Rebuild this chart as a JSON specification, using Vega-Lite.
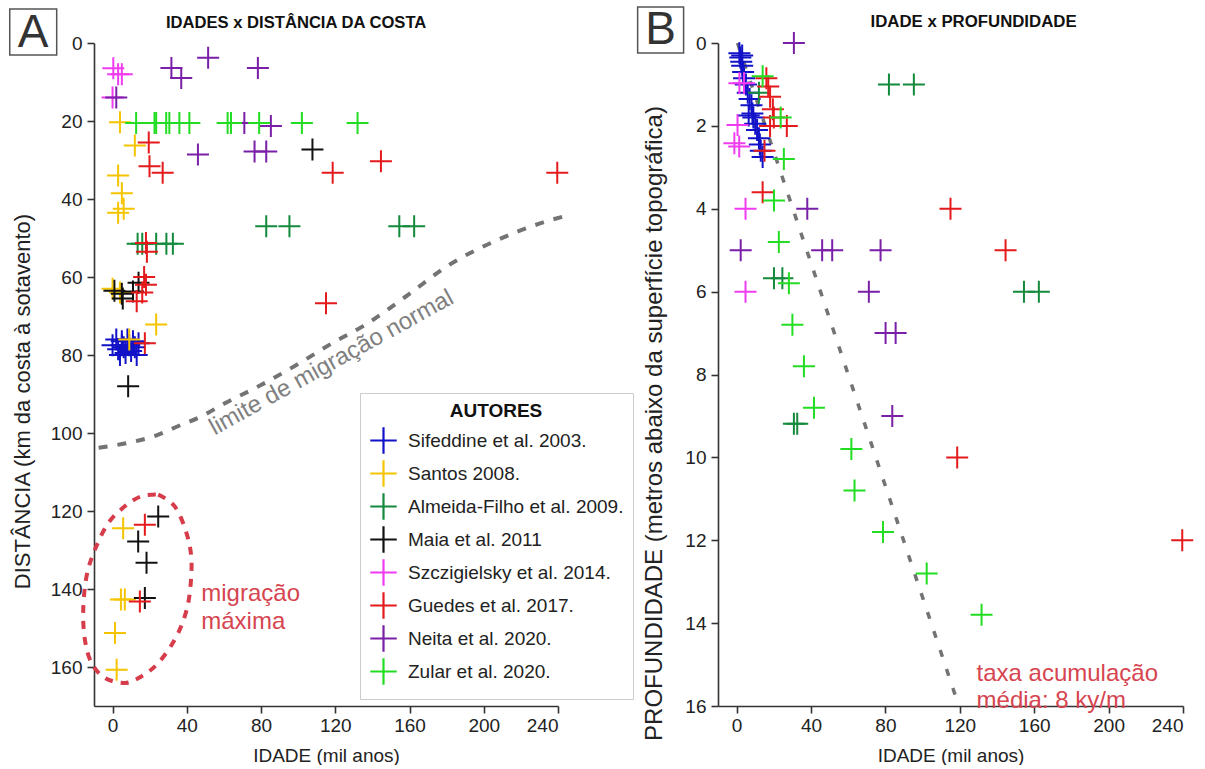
{
  "$schema": "https://vega.github.io/schema/vega-lite/v6.json",
  "background": "white",
  "padding": {"left": 8, "top": 6, "right": 0, "bottom": 0},
  "autosize": {"type": "pad"},
  "bounds": "flush",
  "spacing": 160,
  "config": {
    "font": "Liberation Sans",
    "view": {"stroke": null},
    "axis": {
      "grid": false,
      "domainColor": "#333333",
      "domainWidth": 1.6,
      "tickColor": "#333333",
      "tickWidth": 1.6,
      "tickSize": 7,
      "labelFontSize": 19,
      "labelColor": "#222222",
      "labelFont": "Liberation Sans",
      "titleFont": "Liberation Sans",
      "titleFontSize": 20,
      "titleFontWeight": "normal",
      "titleColor": "#222222"
    }
  },
  "datasets": {
    "a": [
      {"autor": "Sifeddine et al. 2003.", "idade": 0, "dist": 77.5},
      {"autor": "Sifeddine et al. 2003.", "idade": 2, "dist": 76},
      {"autor": "Sifeddine et al. 2003.", "idade": 3, "dist": 78.5},
      {"autor": "Sifeddine et al. 2003.", "idade": 4, "dist": 80},
      {"autor": "Sifeddine et al. 2003.", "idade": 5, "dist": 76.5},
      {"autor": "Sifeddine et al. 2003.", "idade": 6, "dist": 78},
      {"autor": "Sifeddine et al. 2003.", "idade": 7, "dist": 79.5},
      {"autor": "Sifeddine et al. 2003.", "idade": 8, "dist": 76},
      {"autor": "Sifeddine et al. 2003.", "idade": 9, "dist": 77.5},
      {"autor": "Sifeddine et al. 2003.", "idade": 10, "dist": 79},
      {"autor": "Sifeddine et al. 2003.", "idade": 11, "dist": 76.5},
      {"autor": "Sifeddine et al. 2003.", "idade": 12, "dist": 78},
      {"autor": "Sifeddine et al. 2003.", "idade": 13, "dist": 80},
      {"autor": "Sifeddine et al. 2003.", "idade": 14, "dist": 77},
      {"autor": "Sifeddine et al. 2003.", "idade": 5, "dist": 77.5},
      {"autor": "Santos 2008.", "idade": 4, "dist": 20.3},
      {"autor": "Santos 2008.", "idade": 12, "dist": 26.3},
      {"autor": "Santos 2008.", "idade": 3, "dist": 34},
      {"autor": "Santos 2008.", "idade": 5, "dist": 38.5},
      {"autor": "Santos 2008.", "idade": 6, "dist": 42.5},
      {"autor": "Santos 2008.", "idade": 3, "dist": 43.5},
      {"autor": "Santos 2008.", "idade": 0, "dist": 63},
      {"autor": "Santos 2008.", "idade": 4, "dist": 64},
      {"autor": "Santos 2008.", "idade": 23.5, "dist": 72.2},
      {"autor": "Santos 2008.", "idade": 9, "dist": 76},
      {"autor": "Santos 2008.", "idade": 5.7, "dist": 124.4},
      {"autor": "Santos 2008.", "idade": 6.6, "dist": 142.7},
      {"autor": "Santos 2008.", "idade": 4.5, "dist": 142.7},
      {"autor": "Santos 2008.", "idade": 1.3, "dist": 151.3},
      {"autor": "Santos 2008.", "idade": 2.2, "dist": 160.7},
      {"autor": "Almeida-Filho et al. 2009.", "idade": 82.8, "dist": 47},
      {"autor": "Almeida-Filho et al. 2009.", "idade": 95.3, "dist": 47},
      {"autor": "Almeida-Filho et al. 2009.", "idade": 154.5, "dist": 47},
      {"autor": "Almeida-Filho et al. 2009.", "idade": 162.5, "dist": 47},
      {"autor": "Almeida-Filho et al. 2009.", "idade": 13.5, "dist": 51.5},
      {"autor": "Almeida-Filho et al. 2009.", "idade": 16, "dist": 51.5},
      {"autor": "Almeida-Filho et al. 2009.", "idade": 23.5, "dist": 51.5},
      {"autor": "Almeida-Filho et al. 2009.", "idade": 29, "dist": 51.5},
      {"autor": "Almeida-Filho et al. 2009.", "idade": 32.5, "dist": 51.5},
      {"autor": "Maia et al. 2011", "idade": 107.7, "dist": 27.3},
      {"autor": "Maia et al. 2011", "idade": 1, "dist": 63.5},
      {"autor": "Maia et al. 2011", "idade": 5, "dist": 64.3},
      {"autor": "Maia et al. 2011", "idade": 5.5, "dist": 65.5},
      {"autor": "Maia et al. 2011", "idade": 11, "dist": 63.7},
      {"autor": "Maia et al. 2011", "idade": 14, "dist": 61.5},
      {"autor": "Maia et al. 2011", "idade": 8.4, "dist": 88},
      {"autor": "Maia et al. 2011", "idade": 24.6, "dist": 121.4},
      {"autor": "Maia et al. 2011", "idade": 13.8, "dist": 127.8},
      {"autor": "Maia et al. 2011", "idade": 18.3, "dist": 133.3},
      {"autor": "Maia et al. 2011", "idade": 17.4, "dist": 142.3},
      {"autor": "Szczigielsky et al. 2014.", "idade": 0.4, "dist": 6.5},
      {"autor": "Szczigielsky et al. 2014.", "idade": 3, "dist": 8},
      {"autor": "Szczigielsky et al. 2014.", "idade": 5, "dist": 8},
      {"autor": "Szczigielsky et al. 2014.", "idade": 0, "dist": 14},
      {"autor": "Guedes et al. 2017.", "idade": 19.5, "dist": 25.5},
      {"autor": "Guedes et al. 2017.", "idade": 19.9, "dist": 31.6},
      {"autor": "Guedes et al. 2017.", "idade": 27, "dist": 33.3},
      {"autor": "Guedes et al. 2017.", "idade": 118.6, "dist": 33.3},
      {"autor": "Guedes et al. 2017.", "idade": 144.6, "dist": 30.3},
      {"autor": "Guedes et al. 2017.", "idade": 239.6, "dist": 33.3},
      {"autor": "Guedes et al. 2017.", "idade": 18, "dist": 51.3},
      {"autor": "Guedes et al. 2017.", "idade": 18.5, "dist": 53.5},
      {"autor": "Guedes et al. 2017.", "idade": 17, "dist": 60},
      {"autor": "Guedes et al. 2017.", "idade": 18, "dist": 62},
      {"autor": "Guedes et al. 2017.", "idade": 16, "dist": 64},
      {"autor": "Guedes et al. 2017.", "idade": 13, "dist": 66.2},
      {"autor": "Guedes et al. 2017.", "idade": 115, "dist": 66.7},
      {"autor": "Guedes et al. 2017.", "idade": 17.4, "dist": 77},
      {"autor": "Guedes et al. 2017.", "idade": 17.4, "dist": 123.5},
      {"autor": "Guedes et al. 2017.", "idade": 14.7, "dist": 143.2},
      {"autor": "Neita et al. 2020.", "idade": 2, "dist": 14},
      {"autor": "Neita et al. 2020.", "idade": 31.7, "dist": 6.4},
      {"autor": "Neita et al. 2020.", "idade": 37, "dist": 9},
      {"autor": "Neita et al. 2020.", "idade": 51.5, "dist": 3.8},
      {"autor": "Neita et al. 2020.", "idade": 78.3, "dist": 6.4},
      {"autor": "Neita et al. 2020.", "idade": 71, "dist": 20.5},
      {"autor": "Neita et al. 2020.", "idade": 85.3, "dist": 21.3},
      {"autor": "Neita et al. 2020.", "idade": 46, "dist": 28.6},
      {"autor": "Neita et al. 2020.", "idade": 76.5, "dist": 27.8},
      {"autor": "Neita et al. 2020.", "idade": 82.8, "dist": 27.8},
      {"autor": "Zular et al. 2020.", "idade": 12.7, "dist": 20.5},
      {"autor": "Zular et al. 2020.", "idade": 22.6, "dist": 20.5},
      {"autor": "Zular et al. 2020.", "idade": 23.5, "dist": 20.5},
      {"autor": "Zular et al. 2020.", "idade": 28.9, "dist": 20.5},
      {"autor": "Zular et al. 2020.", "idade": 30.6, "dist": 20.5},
      {"autor": "Zular et al. 2020.", "idade": 36, "dist": 20.5},
      {"autor": "Zular et al. 2020.", "idade": 41.4, "dist": 20.5},
      {"autor": "Zular et al. 2020.", "idade": 62, "dist": 20.5},
      {"autor": "Zular et al. 2020.", "idade": 63.8, "dist": 20.5},
      {"autor": "Zular et al. 2020.", "idade": 79, "dist": 20.5},
      {"autor": "Zular et al. 2020.", "idade": 102, "dist": 20.5},
      {"autor": "Zular et al. 2020.", "idade": 132, "dist": 20.5}
    ],
    "b": [
      {"autor": "Sifeddine et al. 2003.", "idade": 1.5, "prof": 0.25},
      {"autor": "Sifeddine et al. 2003.", "idade": 2, "prof": 0.35},
      {"autor": "Sifeddine et al. 2003.", "idade": 2.5, "prof": 0.45},
      {"autor": "Sifeddine et al. 2003.", "idade": 3, "prof": 0.55},
      {"autor": "Sifeddine et al. 2003.", "idade": 3.5, "prof": 0.7},
      {"autor": "Sifeddine et al. 2003.", "idade": 4, "prof": 0.85},
      {"autor": "Sifeddine et al. 2003.", "idade": 5, "prof": 1.0},
      {"autor": "Sifeddine et al. 2003.", "idade": 6, "prof": 1.2},
      {"autor": "Sifeddine et al. 2003.", "idade": 7, "prof": 1.35},
      {"autor": "Sifeddine et al. 2003.", "idade": 8, "prof": 1.5},
      {"autor": "Sifeddine et al. 2003.", "idade": 8.5, "prof": 1.7},
      {"autor": "Sifeddine et al. 2003.", "idade": 9, "prof": 1.8},
      {"autor": "Sifeddine et al. 2003.", "idade": 10, "prof": 1.95},
      {"autor": "Sifeddine et al. 2003.", "idade": 11, "prof": 2.1},
      {"autor": "Sifeddine et al. 2003.", "idade": 12, "prof": 2.3},
      {"autor": "Sifeddine et al. 2003.", "idade": 12.5, "prof": 2.45},
      {"autor": "Sifeddine et al. 2003.", "idade": 13, "prof": 2.6},
      {"autor": "Sifeddine et al. 2003.", "idade": 14, "prof": 2.75},
      {"autor": "Sifeddine et al. 2003.", "idade": 6.5, "prof": 1.75},
      {"autor": "Sifeddine et al. 2003.", "idade": 3, "prof": 0.3},
      {"autor": "Almeida-Filho et al. 2009.", "idade": 12, "prof": 1.2},
      {"autor": "Almeida-Filho et al. 2009.", "idade": 81.9, "prof": 1.0},
      {"autor": "Almeida-Filho et al. 2009.", "idade": 95.3, "prof": 1.0},
      {"autor": "Almeida-Filho et al. 2009.", "idade": 20.1, "prof": 5.68},
      {"autor": "Almeida-Filho et al. 2009.", "idade": 24.6, "prof": 5.68},
      {"autor": "Almeida-Filho et al. 2009.", "idade": 154.5, "prof": 6.0},
      {"autor": "Almeida-Filho et al. 2009.", "idade": 162.5, "prof": 6.0},
      {"autor": "Almeida-Filho et al. 2009.", "idade": 30.8, "prof": 9.19},
      {"autor": "Almeida-Filho et al. 2009.", "idade": 32.6, "prof": 9.19},
      {"autor": "Szczigielsky et al. 2014.", "idade": 4, "prof": 0.97},
      {"autor": "Szczigielsky et al. 2014.", "idade": 1.5, "prof": 0.97},
      {"autor": "Szczigielsky et al. 2014.", "idade": 0.5, "prof": 1.98},
      {"autor": "Szczigielsky et al. 2014.", "idade": -1.2, "prof": 2.42},
      {"autor": "Szczigielsky et al. 2014.", "idade": 1.4, "prof": 2.5},
      {"autor": "Szczigielsky et al. 2014.", "idade": 4.8, "prof": 4.0},
      {"autor": "Szczigielsky et al. 2014.", "idade": 4.8, "prof": 6.0},
      {"autor": "Guedes et al. 2017.", "idade": 16, "prof": 0.85},
      {"autor": "Guedes et al. 2017.", "idade": 17, "prof": 1.05},
      {"autor": "Guedes et al. 2017.", "idade": 18, "prof": 1.3},
      {"autor": "Guedes et al. 2017.", "idade": 19.5, "prof": 1.6},
      {"autor": "Guedes et al. 2017.", "idade": 20, "prof": 1.8},
      {"autor": "Guedes et al. 2017.", "idade": 18, "prof": 2.0},
      {"autor": "Guedes et al. 2017.", "idade": 27, "prof": 2.0},
      {"autor": "Guedes et al. 2017.", "idade": 15, "prof": 2.6},
      {"autor": "Guedes et al. 2017.", "idade": 14, "prof": 3.6},
      {"autor": "Guedes et al. 2017.", "idade": 115, "prof": 4.0},
      {"autor": "Guedes et al. 2017.", "idade": 144.6, "prof": 5.0},
      {"autor": "Guedes et al. 2017.", "idade": 118.6, "prof": 10.0},
      {"autor": "Guedes et al. 2017.", "idade": 239.6, "prof": 12.0},
      {"autor": "Neita et al. 2020.", "idade": 30.8, "prof": 0},
      {"autor": "Neita et al. 2020.", "idade": 2.2, "prof": 5},
      {"autor": "Neita et al. 2020.", "idade": 38, "prof": 4},
      {"autor": "Neita et al. 2020.", "idade": 46, "prof": 5},
      {"autor": "Neita et al. 2020.", "idade": 51.4, "prof": 5},
      {"autor": "Neita et al. 2020.", "idade": 77.4, "prof": 5},
      {"autor": "Neita et al. 2020.", "idade": 71.1, "prof": 6},
      {"autor": "Neita et al. 2020.", "idade": 80.1, "prof": 7},
      {"autor": "Neita et al. 2020.", "idade": 85.5, "prof": 7},
      {"autor": "Neita et al. 2020.", "idade": 83.7, "prof": 9},
      {"autor": "Zular et al. 2020.", "idade": 14, "prof": 0.8},
      {"autor": "Zular et al. 2020.", "idade": 23.7, "prof": 1.8},
      {"autor": "Zular et al. 2020.", "idade": 25.4, "prof": 2.8},
      {"autor": "Zular et al. 2020.", "idade": 20.1, "prof": 3.8},
      {"autor": "Zular et al. 2020.", "idade": 22.7, "prof": 4.8},
      {"autor": "Zular et al. 2020.", "idade": 28.1, "prof": 5.8},
      {"autor": "Zular et al. 2020.", "idade": 30, "prof": 6.8},
      {"autor": "Zular et al. 2020.", "idade": 36.2, "prof": 7.8},
      {"autor": "Zular et al. 2020.", "idade": 41.6, "prof": 8.8},
      {"autor": "Zular et al. 2020.", "idade": 61.7, "prof": 9.8},
      {"autor": "Zular et al. 2020.", "idade": 63.4, "prof": 10.8},
      {"autor": "Zular et al. 2020.", "idade": 78.7, "prof": 11.8},
      {"autor": "Zular et al. 2020.", "idade": 102.2, "prof": 12.8},
      {"autor": "Zular et al. 2020.", "idade": 131.7, "prof": 13.8}
    ],
    "curve": [
      {"idade": -7.5, "dist": 103.8},
      {"idade": 7.5, "dist": 102.6},
      {"idade": 22.6, "dist": 100.8},
      {"idade": 35.5, "dist": 98.2},
      {"idade": 48, "dist": 95.7},
      {"idade": 60, "dist": 92.5},
      {"idade": 80, "dist": 87.7},
      {"idade": 100, "dist": 82.3},
      {"idade": 120, "dist": 76.5},
      {"idade": 135, "dist": 72.6},
      {"idade": 158, "dist": 65},
      {"idade": 181, "dist": 57},
      {"idade": 206, "dist": 50.8},
      {"idade": 232, "dist": 46},
      {"idade": 247, "dist": 44}
    ],
    "ellipse": [
      {"i": 0, "idade": 24.6, "dist": 115.8},
      {"i": 1, "idade": 33.5, "dist": 118.8},
      {"i": 2, "idade": 39.8, "dist": 125.6},
      {"i": 3, "idade": 42.5, "dist": 132.5},
      {"i": 4, "idade": 41.6, "dist": 141.0},
      {"i": 5, "idade": 38.9, "dist": 147.0},
      {"i": 6, "idade": 33.5, "dist": 153.0},
      {"i": 7, "idade": 24.6, "dist": 159.0},
      {"i": 8, "idade": 15.6, "dist": 162.4},
      {"i": 9, "idade": 6.6, "dist": 164.1},
      {"i": 10, "idade": -4.1, "dist": 162.8},
      {"i": 11, "idade": -11.3, "dist": 159.0},
      {"i": 12, "idade": -14.9, "dist": 153.0},
      {"i": 13, "idade": -15.8, "dist": 145.3},
      {"i": 14, "idade": -14.0, "dist": 136.7},
      {"i": 15, "idade": -9.5, "dist": 129.9},
      {"i": 16, "idade": -2.3, "dist": 123.1},
      {"i": 17, "idade": 6.6, "dist": 118.8},
      {"i": 18, "idade": 15.6, "dist": 116.2},
      {"i": 19, "idade": 24.6, "dist": 115.8}
    ],
    "rate": [
      {"idade": 0.5, "prof": 0},
      {"idade": 118, "prof": 15.8}
    ]
  },
  "hconcat": [
    {
      "width": 464,
      "height": 663,
      "layer": [
        {
          "data": {"name": "a"},
          "mark": {"type": "point", "shape": "M-1,0H1M0,-1V1", "filled": false, "strokeWidth": 2, "size": 484, "opacity": 1},
          "encoding": {
            "x": {"field": "idade", "type": "quantitative", "scale": {"domain": [-10, 240], "nice": false, "zero": false}, "axis": {"values": [0, 40, 80, 120, 160, 200, 240], "title": "IDADE (mil anos)", "titleFontSize": 19, "labelPadding": 3, "titlePadding": 11}},
            "y": {"field": "dist", "type": "quantitative", "scale": {"domain": [0, 170], "nice": false, "zero": false, "reverse": true}, "axis": {"values": [0, 20, 40, 60, 80, 100, 120, 140, 160], "title": "DISTÂNCIA (km da costa à sotavento)", "titleFontSize": 22, "labelPadding": 5, "titlePadding": 16, "titleY": 358}},
            "color": {
              "field": "autor", "type": "nominal",
              "scale": {"domain": ["Sifeddine et al. 2003.", "Santos 2008.", "Almeida-Filho et al. 2009.", "Maia et al. 2011", "Szczigielsky et al. 2014.", "Guedes et al. 2017.", "Neita et al. 2020.", "Zular et al. 2020."], "range": ["#1212c8", "#f5c400", "#138a3c", "#111111", "#f03cf0", "#e41a1c", "#7a1fa8", "#22dd22"]},
              "legend": {"orient": "none", "legendX": 266, "legendY": 350, "title": "AUTORES", "titleFontSize": 19, "titleFontWeight": "bold", "titleColor": "#111111", "titleAnchor": "middle", "titlePadding": 5, "labelFontSize": 19, "labelColor": "#222222", "labelLimit": 400, "symbolType": "M-1,0H1M0,-1V1", "symbolSize": 700, "symbolStrokeWidth": 2.2, "fillColor": "white", "strokeColor": "#cccccc", "padding": 9, "rowPadding": -18, "labelOffset": 10}
            }
          }
        },
        {
          "data": {"name": "curve"},
          "mark": {"type": "line", "color": "#737373", "strokeWidth": 4, "strokeDash": [9, 10], "interpolate": "monotone", "clip": false},
          "encoding": {
            "x": {"field": "idade", "type": "quantitative"},
            "y": {"field": "dist", "type": "quantitative"}
          }
        },
        {
          "data": {"name": "ellipse"},
          "mark": {"type": "line", "color": "#d63c4a", "strokeWidth": 4, "strokeDash": [8, 8], "interpolate": "cardinal", "clip": false},
          "encoding": {
            "x": {"field": "idade", "type": "quantitative"},
            "y": {"field": "dist", "type": "quantitative"},
            "order": {"field": "i", "type": "quantitative"}
          }
        },
        {
          "data": {"values": [{"t": "limite de migração normal"}]},
          "mark": {"type": "text", "fontSize": 24, "color": "#7f7f7f", "angle": -29, "align": "center", "baseline": "middle"},
          "encoding": {
            "x": {"datum": 118, "type": "quantitative"},
            "y": {"datum": 82, "type": "quantitative"},
            "text": {"field": "t"}
          }
        },
        {
          "data": {"values": [{"t": ["migração", "máxima"]}]},
          "mark": {"type": "text", "fontSize": 24, "color": "#d64550", "align": "left", "baseline": "middle", "lineHeight": 28},
          "encoding": {
            "x": {"datum": 47.8, "type": "quantitative"},
            "y": {"datum": 141.3, "type": "quantitative"},
            "text": {"field": "t"}
          }
        },
        {
          "data": {"values": [{"t": "IDADES x DISTÂNCIA DA COSTA"}]},
          "mark": {"type": "text", "fontSize": 16.6, "fontWeight": "bold", "color": "#111111", "align": "center", "baseline": "middle"},
          "encoding": {
            "x": {"datum": 98.9, "type": "quantitative"},
            "y": {"datum": -5.1, "type": "quantitative"},
            "text": {"field": "t"}
          }
        },
        {
          "data": {"values": [{"t": "A"}]},
          "mark": {"type": "text", "fontSize": 46, "color": "#333333", "align": "center", "baseline": "middle"},
          "encoding": {
            "x": {"datum": -42.8, "type": "quantitative"},
            "y": {"datum": -2.6, "type": "quantitative"},
            "text": {"field": "t"}
          }
        },
        {
          "data": {"values": [{"t": "A"}]},
          "mark": {"type": "rect", "filled": false, "stroke": "#555555", "strokeWidth": 1.5},
          "encoding": {
            "x": {"datum": -55.4, "type": "quantitative"},
            "x2": {"datum": -30.1},
            "y": {"datum": -8.7, "type": "quantitative"},
            "y2": {"datum": 3.1}
          }
        }
      ]
    },
    {
      "width": 465,
      "height": 663,
      "layer": [
        {
          "data": {"name": "rate"},
          "mark": {"type": "line", "color": "#737373", "strokeWidth": 3.5, "strokeDash": [7, 13], "clip": false},
          "encoding": {
            "x": {"field": "idade", "type": "quantitative"},
            "y": {"field": "prof", "type": "quantitative"}
          }
        },
        {
          "data": {"name": "b"},
          "mark": {"type": "point", "shape": "M-1,0H1M0,-1V1", "filled": false, "strokeWidth": 2, "size": 484, "opacity": 1},
          "encoding": {
            "x": {"field": "idade", "type": "quantitative", "scale": {"domain": [-10, 240], "nice": false, "zero": false}, "axis": {"values": [0, 40, 80, 120, 160, 200, 240], "title": "IDADE (mil anos)", "titleFontSize": 19, "labelPadding": 3, "titlePadding": 11}},
            "y": {"field": "prof", "type": "quantitative", "scale": {"domain": [0, 16], "nice": false, "zero": false, "reverse": true}, "axis": {"values": [0, 2, 4, 6, 8, 10, 12, 14, 16], "title": "PROFUNDIDADE (metros abaixo da superfície topográfica)", "titleFontSize": 24, "labelPadding": 5, "titlePadding": 18, "titleY": 380}},
            "color": {
              "field": "autor", "type": "nominal",
              "scale": {"domain": ["Sifeddine et al. 2003.", "Santos 2008.", "Almeida-Filho et al. 2009.", "Maia et al. 2011", "Szczigielsky et al. 2014.", "Guedes et al. 2017.", "Neita et al. 2020.", "Zular et al. 2020."], "range": ["#1212c8", "#f5c400", "#138a3c", "#111111", "#f03cf0", "#e41a1c", "#7a1fa8", "#22dd22"]},
              "legend": {"orient": "none", "legendX": 266, "legendY": 350, "title": "AUTORES", "titleFontSize": 19, "titleFontWeight": "bold", "titleColor": "#111111", "titleAnchor": "middle", "titlePadding": 5, "labelFontSize": 19, "labelColor": "#222222", "labelLimit": 400, "symbolType": "M-1,0H1M0,-1V1", "symbolSize": 700, "symbolStrokeWidth": 2.2, "fillColor": "white", "strokeColor": "#cccccc", "padding": 9, "rowPadding": -18, "labelOffset": 10}
            }
          }
        },
        {
          "data": {"values": [{"t": ["taxa acumulação", "média: 8 ky/m"]}]},
          "mark": {"type": "text", "fontSize": 24, "color": "#d64550", "align": "left", "baseline": "middle", "lineHeight": 27},
          "encoding": {
            "x": {"datum": 129, "type": "quantitative"},
            "y": {"datum": 15.23, "type": "quantitative"},
            "text": {"field": "t"}
          }
        },
        {
          "data": {"values": [{"t": "IDADE x PROFUNDIDADE"}]},
          "mark": {"type": "text", "fontSize": 16.8, "fontWeight": "bold", "color": "#111111", "align": "center", "baseline": "middle"},
          "encoding": {
            "x": {"datum": 127.4, "type": "quantitative"},
            "y": {"datum": -0.507, "type": "quantitative"},
            "text": {"field": "t"}
          }
        },
        {
          "data": {"values": [{"t": "B"}]},
          "mark": {"type": "text", "fontSize": 46, "color": "#333333", "align": "center", "baseline": "middle"},
          "encoding": {
            "x": {"datum": -40.9, "type": "quantitative"},
            "y": {"datum": -0.31, "type": "quantitative"},
            "text": {"field": "t"}
          }
        },
        {
          "data": {"values": [{"t": "B"}]},
          "mark": {"type": "rect", "filled": false, "stroke": "#555555", "strokeWidth": 1.5},
          "encoding": {
            "x": {"datum": -53.2, "type": "quantitative"},
            "x2": {"datum": -28.5},
            "y": {"datum": -0.87, "type": "quantitative"},
            "y2": {"datum": 0.24}
          }
        }
      ]
    }
  ]
}
